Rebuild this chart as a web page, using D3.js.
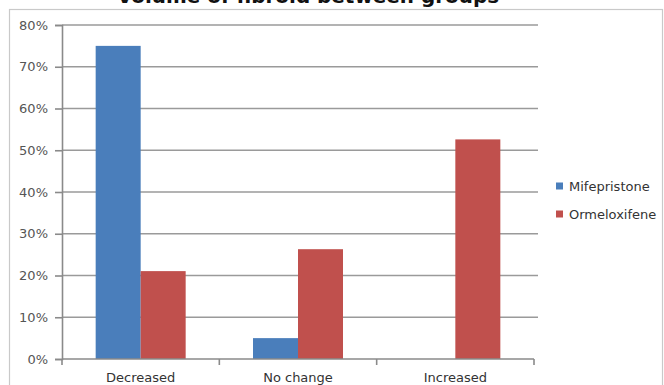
<!DOCTYPE html>
<html>
<head>
<meta charset="utf-8">
<script src="https://cdn.jsdelivr.net/npm/d3@7"></script>
<style>
  html, body { margin: 0; padding: 0; background: #fff; }
  svg { display: block; }
  text { font-family: "DejaVu Sans", sans-serif; }
</style>
</head>
<body>
<svg id="chart" width="664" height="385"></svg>
<script>
// Change in fibroid volume by treatment group (share of patients)
const categories = ["Decreased", "No change", "Increased"];
const seriesNames = ["Mifepristone", "Ormeloxifene"];
const mifepristone = [0.75, 0.05, 0];
const ormeloxifene = [0.2105, 0.263, 0.526];
const yTicks = [0, 0.1, 0.2, 0.3, 0.4, 0.5, 0.6, 0.7, 0.8];
const colors = ["#4a7ebb", "#c0504d"];
const titleText = "Volume of fibroid between groups";

const svg = d3.select("#chart");
const W = 664, H = 385;
const plot = { left: 62, right: 534, top: 25, bottom: 359 };

// outer chart frame
svg.append("rect")
  .attr("x", 9.5).attr("y", 9.5)
  .attr("width", 653).attr("height", 400)
  .attr("fill", "#fff")
  .attr("stroke", "#c9c9c9").attr("stroke-width", 1.2);

// title (partly above the top edge)
svg.append("text")
  .attr("x", 308).attr("y", 3)
  .attr("text-anchor", "middle")
  .attr("font-size", 20).attr("font-weight", "bold")
  .attr("fill", "#111")
  .attr("textLength", 382).attr("lengthAdjust", "spacingAndGlyphs")
  .text(titleText);

const x0 = d3.scaleBand().domain(categories).range([plot.left, plot.right]).padding(0);
const groupW = x0.bandwidth() * 0.572;
const x1 = d3.scaleBand().domain(seriesNames).range([0, groupW]).padding(0);
const y = d3.scaleLinear().domain([0, 0.8]).range([plot.bottom, plot.top]);

// horizontal gridlines
svg.append("g")
  .selectAll("line")
  .data(yTicks.filter(d => d > 0))
  .join("line")
  .attr("x1", plot.left).attr("x2", plot.right + 4)
  .attr("y1", d => y(d)).attr("y2", d => y(d))
  .attr("stroke", "#9a9a9a").attr("stroke-width", 1.6);

// y axis
const yAxis = d3.axisLeft(y)
  .tickValues(yTicks)
  .tickFormat(d3.format(".0%"))
  .tickSize(7).tickPadding(7);
const gy = svg.append("g").attr("transform", `translate(${plot.left},0)`).call(yAxis);
gy.select(".domain").attr("stroke", "#8a8a8a").attr("stroke-width", 1.6);
gy.selectAll(".tick line").attr("stroke", "#8a8a8a").attr("stroke-width", 1.6);
gy.selectAll(".tick text")
  .attr("font-size", 13).attr("fill", "#555")
  .attr("font-family", "DejaVu Sans, sans-serif");

// bars
const rows = categories.map((c, i) => ({
  cat: c,
  vals: [mifepristone[i], ormeloxifene[i]]
}));
const groups = svg.append("g")
  .selectAll("g")
  .data(rows)
  .join("g")
  .attr("transform", d => `translate(${x0(d.cat) + (x0.bandwidth() - groupW) / 2},0)`);
groups.selectAll("rect")
  .data(d => d.vals.map((v, j) => ({ name: seriesNames[j], v, j })))
  .join("rect")
  .attr("x", d => x1(d.name))
  .attr("width", x1.bandwidth())
  .attr("y", d => y(d.v))
  .attr("height", d => y(0) - y(d.v))
  .attr("fill", d => colors[d.j]);

// x axis with ticks between categories
const xAxisG = svg.append("g").attr("transform", `translate(0,${plot.bottom})`);
xAxisG.append("line")
  .attr("x1", plot.left).attr("x2", plot.right)
  .attr("stroke", "#8a8a8a").attr("stroke-width", 1.6);
const bounds = categories.map(c => x0(c) + x0.bandwidth()).concat([x0(categories[0])]);
xAxisG.selectAll("line.tk")
  .data(bounds)
  .join("line").attr("class", "tk")
  .attr("x1", d => d).attr("x2", d => d)
  .attr("y1", 0).attr("y2", 6)
  .attr("stroke", "#8a8a8a").attr("stroke-width", 1.6);
xAxisG.selectAll("text")
  .data(categories)
  .join("text")
  .attr("x", d => x0(d) + x0.bandwidth() / 2)
  .attr("y", 23)
  .attr("text-anchor", "middle")
  .attr("font-size", 13).attr("fill", "#333")
  .text(d => d);

// legend
const legend = svg.append("g")
  .selectAll("g")
  .data(seriesNames)
  .join("g")
  .attr("transform", (d, i) => `translate(556,${186 + i * 28})`);
legend.append("rect")
  .attr("x", 0).attr("y", -3.5)
  .attr("width", 7).attr("height", 7)
  .attr("fill", (d, i) => colors[i]);
legend.append("text")
  .attr("x", 13).attr("y", 0).attr("dy", "0.36em")
  .attr("font-size", 13).attr("fill", "#333")
  .text(d => d);
</script>
</body>
</html>
